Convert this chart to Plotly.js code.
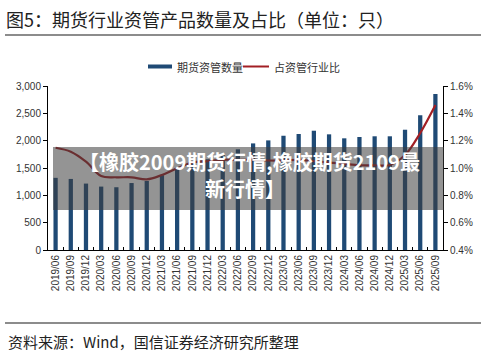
<!DOCTYPE html>
<html>
<head>
<meta charset="utf-8">
<script src="https://cdn.plot.ly/plotly-3.0.1.min.js"></script>
<style>html,body{margin:0;padding:0;background:#fff;}#chart{width:500px;height:358px;}</style>
</head>
<body>
<div id="chart"></div>
<script>
const categories = ['2019/06','2019/09','2019/12','2020/03','2020/06','2020/09','2020/12','2021/03','2021/06','2021/09','2021/12','2022/03','2022/06','2022/09','2022/12','2023/03','2023/06','2023/09','2023/12','2024/03','2024/06','2024/09','2024/12','2025/03','2025/06','2025/09'];
const counts = [1320,1300,1215,1160,1148,1225,1262,1370,1490,1580,1660,1760,1842,1950,2005,2090,2122,2182,2116,2043,2067,2080,2080,2200,2464,2854];
const ratio = [1.148,1.119,1.046,0.941,0.932,0.932,0.917,0.949,0.998,1.040,1.050,1.060,1.060,1.060,1.055,1.055,1.060,1.050,1.040,1.030,1.020,1.020,1.022,1.095,1.256,1.461];
const seriesNames = ['期货资管数量','占资管行业比'];
const leftTicks = [0,500,1000,1500,2000,2500,3000];
const leftTickLabels = ['0','500','1,000','1,500','2,000','2,500','3,000'];
const rightTicks = [0.4,0.6,0.8,1.0,1.2,1.4,1.6];
const rightTickLabels = ['0.4%','0.6%','0.8%','1.0%','1.2%','1.4%','1.6%'];
const titleText = '图5：期货行业资管产品数量及占比（单位：只）';
const sourceText = '资料来源：Wind，国信证券经济研究所整理';
const overlayLine1 = '【橡胶2009期货行情,橡胶期货2109最';
const overlayLine2 = '新行情】';

const barColor = '#1F4A75';
const lineColor = '#A21F24';
const cjk = '"Noto Sans CJK SC", "Noto Sans", sans-serif';
const latin = '"Liberation Sans", Arial, sans-serif';

// pixel -> paper helpers (plot area: x 48..443, y 86..250)
const L = 48, R = 443, T = 86, B = 250;
const px = x => (x - L) / (R - L);
const py = y => (B - y) / (B - T);

const traces = [
  {type:'bar', x:categories, y:counts, name:seriesNames[0], marker:{color:barColor}, yaxis:'y', showlegend:false},
  {type:'scatter', mode:'lines', x:categories, y:ratio, name:seriesNames[1], yaxis:'y2',
   line:{color:lineColor, width:2.2, shape:'spline', smoothing:1}, showlegend:false}
];

const layout = {
  width:500, height:358,
  margin:{l:L, r:500-R, t:T, b:358-B, pad:0},
  paper_bgcolor:'#fff', plot_bgcolor:'#fff',
  bargap:0.72,
  showlegend:false,
  title:{text:titleText, x:0.012, xanchor:'left', xref:'container', y:1-21/358, yref:'container', yanchor:'middle',
         font:{family:cjk, size:18, color:'#222'}},
  xaxis:{type:'category', range:[-0.5, categories.length-0.5], showline:true, linecolor:'#000', linewidth:1,
         ticks:'inside', tickson:'boundaries', ticklen:3, tickcolor:'#000', tickangle:-90,
         tickfont:{family:latin, size:10, color:'#333'}, showgrid:false, zeroline:false},
  yaxis:{range:[0,3000], tickmode:'array', tickvals:leftTicks, ticktext:leftTickLabels, showline:true, linecolor:'#000', linewidth:1,
         ticks:'outside', ticklen:4, tickcolor:'#000', showgrid:false, zeroline:false,
         tickfont:{family:latin, size:10, color:'#333'}},
  yaxis2:{range:[0.4,1.6], tickmode:'array', tickvals:rightTicks, ticktext:rightTickLabels, overlaying:'y', side:'right',
          showline:true, linecolor:'#000', linewidth:1, ticks:'outside', ticklen:4, tickcolor:'#000',
          showgrid:false, zeroline:false,
          tickfont:{family:latin, size:10, color:'#333'}},
  shapes:[
    {type:'line', xref:'paper', yref:'paper', x0:px(5), x1:px(481), y0:py(35), y1:py(35), line:{color:'#666', width:1.5}},
    {type:'line', xref:'paper', yref:'paper', x0:px(5), x1:px(481), y0:py(323), y1:py(323), line:{color:'#666', width:1.5}},
    {type:'rect', xref:'paper', yref:'paper', x0:px(148), x1:px(172), y0:py(68.5), y1:py(64.5), fillcolor:barColor, line:{width:0}},
    {type:'line', xref:'paper', yref:'paper', x0:px(243), x1:px(269), y0:py(66.5), y1:py(66.5), line:{color:lineColor, width:2}},
    {type:'rect', xref:'paper', yref:'paper', layer:'above', x0:px(53), x1:px(444), y0:py(147), y1:py(210),
     fillcolor:'rgba(60,60,60,0.55)', line:{width:0}}
  ],
  annotations:[
    {xref:'paper', yref:'paper', x:px(175), y:py(66.5), xanchor:'left', yanchor:'middle', showarrow:false,
     text:seriesNames[0], font:{family:cjk, size:11, color:'#333'}},
    {xref:'paper', yref:'paper', x:px(272), y:py(66.5), xanchor:'left', yanchor:'middle', showarrow:false,
     text:seriesNames[1], font:{family:cjk, size:11, color:'#333'}},
    {xref:'paper', yref:'paper', x:px(6), y:py(341), xanchor:'left', yanchor:'middle', showarrow:false,
     text:sourceText, font:{family:cjk, size:15, color:'#222'}},
    {xref:'paper', yref:'paper', x:px(249), y:py(161), xanchor:'center', yanchor:'middle', showarrow:false,
     text:'<b>'+overlayLine1+'</b>', font:{family:cjk, size:20, color:'#fff'}},
    {xref:'paper', yref:'paper', x:px(245), y:py(188), xanchor:'center', yanchor:'middle', showarrow:false,
     text:'<b>'+overlayLine2+'</b>', font:{family:cjk, size:20, color:'#fff'}}
  ]
};

Plotly.newPlot('chart', traces, layout, {displayModeBar:false, staticPlot:true});
</script>
</body>
</html>
